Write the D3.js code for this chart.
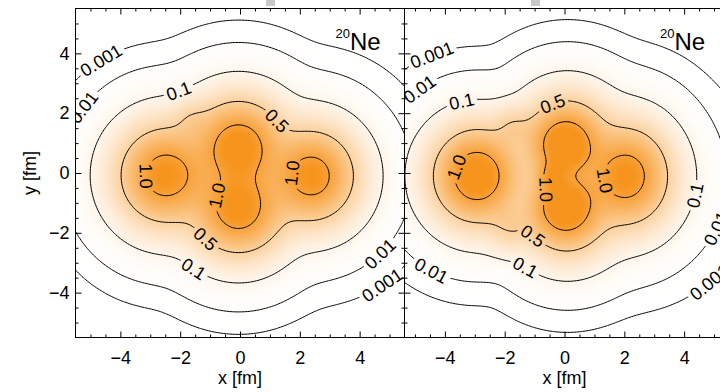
<!DOCTYPE html>
<html>
<head>
<meta charset="utf-8">
<script src="https://d3js.org/d3.v7.min.js"></script>
<style>
body { margin: 0; background: #fff; }
text { font-family: "Liberation Sans", Arial, Helvetica, sans-serif; fill: #000; }
</style>
</head>
<body>
<svg id="chart" width="720" height="392"></svg>
<script>
// contour levels
var levels = [0.001, 0.01, 0.1, 0.5, 1.0];
var levelText = ["0.001", "0.01", "0.1", "0.5", "1.0"];
var majorTicks = [-4, -2, 0, 2, 4];

// density blobs (fm)
var leftX = [-2.5, -0.05, -0.05, 2.4, 2.4, -1.6];
var leftY = [-0.08, 0.9, -1.19, -0.1, -0.1, 1.75];
var leftPeak = [1.17, 1.22, 1.19, 1.15, 0.15, 0.38];
var leftWX = [1.6, 1.58, 1.58, 1.51, 1.9, 0.75];
var leftWY = [1.68, 1.58, 1.58, 1.6, 1.9, 0.75];

// right panel
var rightX = [-2.93, -3.1, 0.0, 0.1, 0.0, 0.1, -0.45, 2.07, 2.3, -1.7, -1.8];
var rightY = [-0.1, -0.1, 0.85, 1.25, -1.05, -1.45, -0.1, -0.11, -0.3, 1.5, -1.75];
var rightPeak = [1.27, 0.1, 1.1, 0.8, 1.1, 0.8, 0.75, 1.17, 0.12, 0.45, 0.45];
var rightWX = [1.5, 1.9, 1.26, 1.5, 1.26, 1.5, 0.6, 1.48, 1.9, 0.8, 0.9];
var rightWY = [1.6, 1.9, 1.26, 1.5, 1.26, 1.5, 0.6, 1.7, 1.9, 0.8, 0.9];

// where the contour labels sit: [level, x, y] in fm
var leftLabels = [[0.001, -4.57, 3.65], [0.01, -5.08, 2.1], [0.1, -2.1, 2.81], [0.5, 1.31, 1.84],
  [1.0, -3.33, -0.1], [1.0, -0.69, -0.79], [1.0, 1.85, 0], [0.5, -1.23, -2.34], [0.1, -1.61, -3.3],
  [0.01, 4.75, -2.8], [0.001, 4.69, -3.63]];
var rightLabels = [[0.001, -4.37, 3.78], [0.01, -4.82, 2.78], [0.1, -3.42, 2.33], [0.5, -0.41, 2.33],
  [1.0, -3.49, 0.16], [1.0, -0.58, -0.57], [1.0, 1.56, -0.23], [0.5, -1.14, -2.18], [0.1, -1.36, -3.24],
  [0.01, -4.42, -3.19], [0.1, 4.49, -0.79], [0.01, 4.99, -1.8], [0.001, 4.72, -3.52]];

var svg = d3.select("#chart");
var top0 = 8.5, bottom0 = 337.5;
var y = d3.scaleLinear().domain([-5.5, 5.5]).range([bottom0, top0]);
var color = d3.scaleLinear().domain([0, 1.15]).range(["#ffffff", "#f7941d"]).clamp(true);

var panels = [
  {id: "l", domain: [-5.5, 5.5], range: [75.5, 404.5], bx: leftX, by: leftY, bp: leftPeak, wx: leftWX, wy: leftWY,
   labels: leftLabels, yLabels: true},
  {id: "r", domain: [-5.35, 5.65], range: [404.5, 733.5], bx: rightX, by: rightY, bp: rightPeak, wx: rightWX, wy: rightWY,
   labels: rightLabels, yLabels: false}
];

// blobs add in quadrature
function density(p, fx, fy) {
  var s = 0;
  for (var i = 0; i < p.bx.length; i++) {
    var dx = (fx - p.bx[i]) / p.wx[i], dy = (fy - p.by[i]) / p.wy[i];
    var g = p.bp[i] * Math.exp(-dx * dx - dy * dy);
    s += g * g;
  }
  return Math.sqrt(s);
}

var defs = svg.append("defs");

panels.forEach(function(p) {
  var x = d3.scaleLinear().domain(p.domain).range(p.range);
  var w = p.range[1] - p.range[0], h = bottom0 - top0;

  defs.append("clipPath").attr("id", "clip-" + p.id)
    .append("rect").attr("x", p.range[0]).attr("y", top0).attr("width", w).attr("height", h);

  var g = svg.append("g").attr("clip-path", "url(#clip-" + p.id + ")");

  // colour map
  var canvas = document.createElement("canvas");
  canvas.width = w; canvas.height = h;
  var ctx = canvas.getContext("2d");
  var img = ctx.createImageData(w, h);
  for (var j = 0; j < h; j++) {
    for (var i = 0; i < w; i++) {
      var v = density(p, x.invert(p.range[0] + i + 0.5), y.invert(top0 + j + 0.5));
      var c = d3.rgb(color(v)), k = (j * w + i) * 4;
      img.data[k] = c.r; img.data[k + 1] = c.g; img.data[k + 2] = c.b; img.data[k + 3] = 255;
    }
  }
  ctx.putImageData(img, 0, 0);
  g.append("image").attr("x", p.range[0]).attr("y", top0).attr("width", w).attr("height", h)
    .attr("href", canvas.toDataURL());

  // contours on a grid
  var n = 261, g0 = -6.5, stp = 0.05;
  var vals = new Float64Array(n * n);
  for (var jj = 0; jj < n; jj++)
    for (var ii = 0; ii < n; ii++)
      vals[jj * n + ii] = density(p, g0 + ii * stp, -g0 - jj * stp);
  var conts = d3.contours().size([n, n]).thresholds(levels)(vals);
  var toPx = function(px, py) { return [x(g0 + (px - 0.5) * stp), y(-g0 - (py - 0.5) * stp)]; };
  var path = d3.geoPath(d3.geoTransform({point: function(px, py) {
    var q = toPx(px, py); this.stream.point(q[0], q[1]);
  }}));

  var mask = defs.append("mask").attr("id", "mask-" + p.id).attr("maskUnits", "userSpaceOnUse")
    .attr("x", 0).attr("y", 0).attr("width", 720).attr("height", 392);
  mask.append("rect").attr("width", 720).attr("height", 392).attr("fill", "#fff");

  g.append("g").attr("mask", "url(#mask-" + p.id + ")")
    .selectAll("path").data(conts).join("path")
    .attr("d", path).attr("fill", "none").attr("stroke", "#000").attr("stroke-width", 1);

  // contour labels with a gap in the line
  p.labels.forEach(function(lb) {
    var li = levels.indexOf(lb[0]);
    var ax = x(lb[1]), ay = y(lb[2]);
    var best = null, bd = 1e9;
    conts[li].coordinates.forEach(function(poly) {
      poly.forEach(function(ring) {
        var pts = ring.map(function(q) { return toPx(q[0], q[1]); });
        pts.forEach(function(q, idx) {
          var d = (q[0] - ax) * (q[0] - ax) + (q[1] - ay) * (q[1] - ay);
          if (d < bd) { bd = d; best = {pts: pts, idx: idx}; }
        });
      });
    });
    if (!best) return;
    var m = best.pts.length - 1;
    var a = best.pts[(best.idx - 4 + m) % m], b = best.pts[(best.idx + 4) % m], q = best.pts[best.idx];
    var ang = Math.atan2(b[1] - a[1], b[0] - a[0]) * 180 / Math.PI;
    if (ang > 90) ang -= 180;
    if (ang <= -90) ang += 180;
    var t = g.append("text").attr("transform", "translate(" + q[0] + "," + q[1] + ") rotate(" + ang + ")")
      .attr("text-anchor", "middle").attr("dy", "0.36em").attr("font-size", 18)
      .text(levelText[li]);
    var tl = t.node().getComputedTextLength();
    mask.append("rect").attr("x", -tl / 2 - 3).attr("y", -7).attr("width", tl + 6).attr("height", 14)
      .attr("fill", "#000")
      .attr("transform", "translate(" + q[0] + "," + q[1] + ") rotate(" + ang + ")");
  });

  // frame and ticks, all pointing inwards
  var minor = d3.range(-5, 5.01, 0.5).filter(function(v) { return v % 2 !== 0; });
  var sides = [
    [d3.axisBottom, x, "translate(0," + bottom0 + ")", true, 14],
    [d3.axisTop, x, "translate(0," + top0 + ")", false, 0],
    [d3.axisLeft, y, "translate(" + p.range[0] + ",0)", p.yLabels, 6],
    [d3.axisRight, y, "translate(" + p.range[1] + ",0)", false, 0]
  ];
  sides.forEach(function(sd) {
    var major = sd[0](sd[1]).tickValues(majorTicks).tickSizeInner(-6).tickSizeOuter(0).tickPadding(sd[4]);
    if (!sd[3]) major.tickFormat("");
    var gm = svg.append("g").attr("transform", sd[2]).call(major);
    gm.select(".domain").remove();
    gm.selectAll("text").attr("font-size", 18).attr("font-family", null);
    var mn = sd[0](sd[1]).tickValues(minor).tickSizeInner(-3).tickSizeOuter(0).tickFormat("");
    var gn = svg.append("g").attr("transform", sd[2]).call(mn);
    gn.select(".domain").remove();
  });

  svg.append("rect").attr("x", p.range[0]).attr("y", top0).attr("width", w).attr("height", h)
    .attr("fill", "none").attr("stroke", "#000").attr("stroke-width", 1);

  svg.append("text").attr("x", x(0)).attr("y", 384).attr("text-anchor", "middle")
    .attr("font-size", 18).text("x [fm]");

  var ne = svg.append("text").attr("x", x(4.7)).attr("y", 50).attr("text-anchor", "end");
  ne.append("tspan").attr("font-size", 13).attr("dy", -12).text("20");
  ne.append("tspan").attr("font-size", 24).attr("dy", 12).text("Ne");
});

svg.append("text").attr("transform", "translate(36," + y(0) + ") rotate(-90)")
  .attr("text-anchor", "middle").attr("font-size", 18).text("y [fm]");

// small grey marks at the top edge
var marks = [266, 531];
svg.selectAll("rect.mark").data(marks).join("rect").attr("class", "mark")
  .attr("x", function(d) { return d; }).attr("y", 0).attr("width", 9).attr("height", 6).attr("fill", "#c8c8c8");
</script>
</body>
</html>
